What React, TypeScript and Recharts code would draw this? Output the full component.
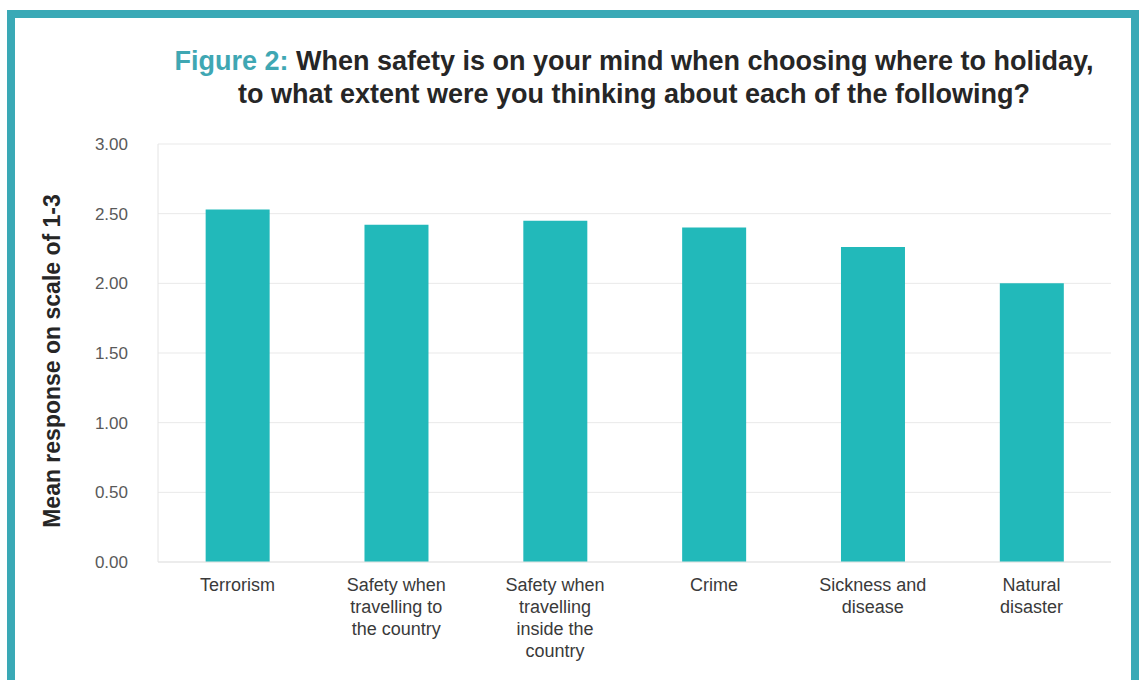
import { Bar, BarChart, CartesianGrid, Label, XAxis, YAxis } from "recharts";

const categories = [
  "Terrorism",
  "Safety when travelling to the country",
  "Safety when travelling inside the country",
  "Crime",
  "Sickness and disease",
  "Natural disaster",
];
const labelLines = [
  ["Terrorism"],
  ["Safety when", "travelling to", "the country"],
  ["Safety when", "travelling", "inside the", "country"],
  ["Crime"],
  ["Sickness and", "disease"],
  ["Natural", "disaster"],
];
const meanResponse = [2.53, 2.42, 2.45, 2.4, 2.26, 2.0];
const yTicks = [0, 0.5, 1, 1.5, 2, 2.5, 3];

const data = categories.map((name, i) => ({ name, lines: labelLines[i], value: meanResponse[i] }));

const FONT = "'Liberation Sans', Arial, Helvetica, sans-serif";
const TEAL = "#22b9ba";
const FRAME = "#3aa9b6";

function CategoryTick({ x, y, index }: any) {
  const lines = labelLines[index] ?? [];
  return (
    <text x={x} y={y + 21} textAnchor="middle" fill="#3a3a3a" fontSize={18} fontFamily={FONT}>
      {lines.map((l, i) => (
        <tspan key={i} x={x} dy={i === 0 ? 0 : 22}>
          {l}
        </tspan>
      ))}
    </text>
  );
}

export default function App() {
  return (
    <div
      style={{
        position: "absolute",
        left: 0,
        top: 0,
        width: 1139,
        height: 680,
        background: "#fff",
        overflow: "hidden",
        fontFamily: FONT,
      }}
    >
      {/* teal frame, bottom edge falls outside the picture */}
      <div
        style={{
          position: "absolute",
          left: 7,
          top: 10,
          width: 1116,
          height: 700,
          border: `8px solid ${FRAME}`,
        }}
      />
      <div
        style={{
          position: "absolute",
          left: 0,
          top: 45,
          width: 1268,
          textAlign: "center",
          fontSize: 27,
          fontWeight: "bold",
          lineHeight: "33px",
          color: "#262626",
        }}
      >
        <span style={{ color: "#3fa7b3" }}>Figure 2:</span> When safety is on your mind when choosing where to holiday,
        <br />
        to what extent were you thinking about each of the following?
      </div>
      <div style={{ position: "absolute", left: 0, top: 0 }}>
        <BarChart
          width={1139}
          height={680}
          data={data}
          margin={{ top: 144, right: 28, bottom: 88, left: 40 }}
          barCategoryGap="30%"
        >
          <CartesianGrid stroke="#e9e9e9" vertical={false} />
          <XAxis
            dataKey="name"
            tick={<CategoryTick />}
            tickLine={false}
            axisLine={{ stroke: "#e4e4e4" }}
            interval={0}
            height={30}
          />
          <YAxis
            width={118}
            domain={[0, 3]}
            ticks={yTicks}
            tickFormatter={(v: number) => v.toFixed(2)}
            tick={{ fill: "#595959", fontSize: 17, fontFamily: FONT }}
            tickLine={false}
            tickMargin={24}
            axisLine={{ stroke: "#e4e4e4" }}
          >
            <Label
              value="Mean response on scale of 1-3"
              angle={-90}
              position="insideLeft"
              offset={12}
              dy={8}
              style={{ textAnchor: "middle", fontSize: 23, fontWeight: "bold", fill: "#262626", fontFamily: FONT }}
            />
          </YAxis>
          <Bar dataKey="value" fill={TEAL} isAnimationActive={false} />
        </BarChart>
      </div>
    </div>
  );
}
